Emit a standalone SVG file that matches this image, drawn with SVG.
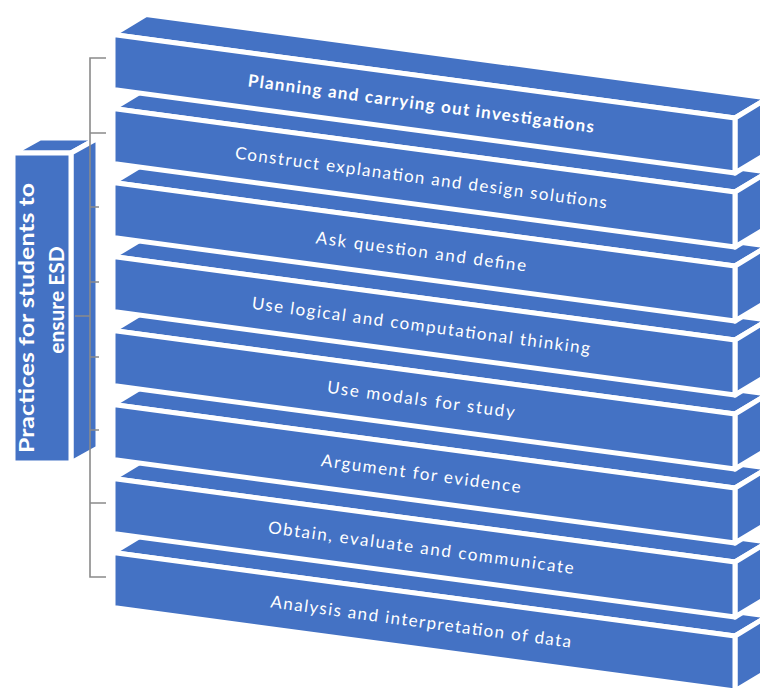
<svg xmlns="http://www.w3.org/2000/svg" xmlns:xlink="http://www.w3.org/1999/xlink" width="760" height="690" viewBox="0 0 760 690">
<style>
.face{fill:#4472C4;stroke:#ffffff;stroke-width:5;stroke-linejoin:round}
.lbl{font-family:Lato,"Open Sans","Liberation Sans",sans-serif;font-size:17px;fill:#ffffff;text-anchor:middle}
.b{font-weight:bold}
.side{font-family:Lato,"Open Sans","Liberation Sans",sans-serif;font-size:21px;font-weight:bold;fill:#ffffff;text-anchor:middle}
.conn{fill:none;stroke:#8a8a8a;stroke-width:1.6}
</style>
<defs>
<g id="box">
<polygon class="face" points="113,34.5 146,14.5 768,98 735,118"/>
<polygon class="face" points="735,118 768,98 768,153 735,173"/>
<polygon class="face" points="113,34.5 735,118 735,173 113,89.5"/>
</g>
</defs>
<rect width="760" height="690" fill="#ffffff"/>
<g id="root">
<polygon class="face" points="13,153 40,138 98,138 71,153"/>
<polygon class="face" points="71,153 98,138 98,448 71,463"/>
<polygon class="face" points="13,153 71,153 71,463 13,463"/>
<text class="side" transform="translate(34,318) rotate(-90)" textLength="270" lengthAdjust="spacingAndGlyphs">Practices for students to</text>
<text class="side" transform="translate(64,300) rotate(-90)">ensure ESD</text>
</g>
<g id="connectors">
<path class="conn" d="M106,58 H90 V577 H106"/>
<path class="conn" d="M90,133 H106 M90,207 H99 M90,282 H99 M90,357 H99 M90,430 H99 M90,503 H106 M75,316 H90"/>
</g>
<g id="n8" transform="translate(0,518)">
<use xlink:href="#box"/>
<text class="lbl" x="421" y="109.5" transform="rotate(7.65 421 103.7)" textLength="303" lengthAdjust="spacing">Analysis and interpretation of data</text>
</g>
<g id="n7" transform="translate(0,444)">
<use xlink:href="#box"/>
<text class="lbl" x="421" y="109.5" transform="rotate(7.65 421 103.7)" textLength="308" lengthAdjust="spacing">Obtain, evaluate and communicate</text>
</g>
<g id="n6" transform="translate(0,370)">
<use xlink:href="#box"/>
<text class="lbl" x="421" y="109.5" transform="rotate(7.65 421 103.7)" textLength="201" lengthAdjust="spacing">Argument for evidence</text>
</g>
<g id="n5" transform="translate(0,296)">
<use xlink:href="#box"/>
<text class="lbl" x="421" y="109.5" transform="rotate(7.65 421 103.7)" textLength="189" lengthAdjust="spacing">Use modals for study</text>
</g>
<g id="n4" transform="translate(0,222)">
<use xlink:href="#box"/>
<text class="lbl" x="421" y="109.5" transform="rotate(7.65 421 103.7)" textLength="341" lengthAdjust="spacing">Use logical and computational thinking</text>
</g>
<g id="n3" transform="translate(0,148)">
<use xlink:href="#box"/>
<text class="lbl" x="421" y="109.5" transform="rotate(7.65 421 103.7)" textLength="212" lengthAdjust="spacing">Ask question and define</text>
</g>
<g id="n2" transform="translate(0,74)">
<use xlink:href="#box"/>
<text class="lbl" x="421" y="109.5" transform="rotate(7.65 421 103.7)" textLength="375" lengthAdjust="spacing">Construct explanation and design solutions</text>
</g>
<g id="n1">
<use xlink:href="#box"/>
<text class="lbl b" x="421" y="109.5" transform="rotate(7.65 421 103.7)" textLength="349" lengthAdjust="spacing">Planning and carrying out investigations</text>
</g>
</svg>
